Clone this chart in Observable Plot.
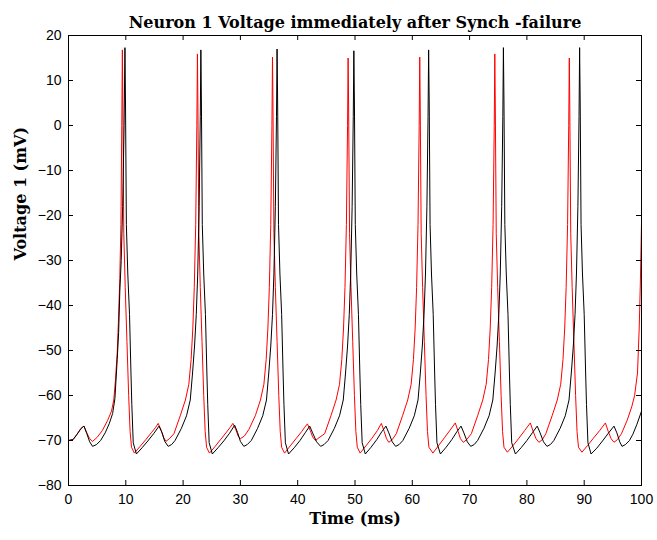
<!DOCTYPE html>
<html>
<head>
<meta charset="utf-8">
<script src="https://cdn.jsdelivr.net/npm/d3@7"></script>
<script src="https://cdn.jsdelivr.net/npm/@observablehq/plot@0.6"></script>
<style>
  html, body { margin: 0; padding: 0; background: #fff; }
  #chart { width: 657px; height: 540px; }
</style>
</head>
<body>
<div id="chart"></div>
<script>
const titleText = "Neuron 1 Voltage immediately after Synch -failure";
const xLabel = "Time (ms)";
const yLabel = "Voltage 1 (mV)";
const xTicks = [0, 10, 20, 30, 40, 50, 60, 70, 80, 90, 100];
const yTicks = [-80, -70, -60, -50, -40, -30, -20, -10, 0, 10, 20];

// black trace: [time ms, voltage mV]
const blackTrace = [
[0,-70],[0.8,-69.8],[1.5,-68.6],[2.2,-67.3],[2.7,-66.8],[3.2,-68.5],[3.7,-70.3],[4.2,-71.3],[4.9,-70.9],[5.6,-70.0],[6.4,-68.3],[7.1,-66.3],[7.7,-64.0],[8.1,-60.7],[8.5,-52],[8.75,-46],[8.95,-37],[9.2,-30],[9.45,-18],[9.7,0],[9.85,17.3],
[9.95,5],[10.1,-22],[10.35,-33],[10.65,-42],[10.9,-55],[11.05,-62],[11.3,-70.5],[11.85,-73],[12.85,-71.6],[13.85,-70.1],[14.85,-68.5],[15.8,-66.8],[16.3,-68.2],[16.8,-70.2],[17.4,-71.3],[18.0,-70.9],[18.6,-70],[19.7,-67.3],[20.6,-64.5],[21.25,-61],[21.65,-55],[22.0,-49],[22.3,-42],[22.55,-33],[22.8,-18],[23.0,2],[23.1,16.8],
[23.2,5],[23.35,-22],[23.6,-33],[23.9,-42],[24.15,-55],[24.3,-62],[24.55,-70.5],[25.1,-73],[26.1,-71.6],[27.1,-70.1],[28.1,-68.4],[29.0,-66.6],[29.5,-68.2],[30.0,-70.2],[30.6,-71.3],[31.2,-70.9],[31.9,-70],[33.0,-67.3],[33.9,-64.5],[34.55,-61],[34.95,-55],[35.3,-49],[35.6,-42],[35.85,-33],[36.1,-18],[36.3,2],[36.4,17.0],
[36.5,5],[36.65,-22],[36.9,-33],[37.2,-42],[37.45,-55],[37.6,-62],[37.85,-70.5],[38.4,-73],[39.4,-71.6],[40.4,-70],[41.3,-68.3],[42.1,-66.8],[42.6,-68.3],[43.3,-70.3],[44.0,-71.3],[44.6,-70.9],[45.3,-70],[46.4,-67.3],[47.3,-64.5],[47.95,-61],[48.35,-55],[48.7,-49],[49.0,-42],[49.25,-33],[49.5,-18],[49.7,2],[49.8,16.6],
[49.9,5],[50.05,-22],[50.3,-33],[50.6,-42],[50.85,-55],[51.0,-62],[51.25,-70.5],[51.8,-73],[52.8,-71.5],[53.8,-69.8],[54.7,-68],[55.4,-66.8],[55.9,-68.3],[56.5,-70.3],[57.1,-71.3],[57.7,-70.9],[58.35,-70],[59.45,-67.3],[60.35,-64.5],[61.0,-61],[61.4,-55],[61.75,-49],[62.05,-42],[62.3,-33],[62.55,-18],[62.75,2],[62.85,16.8],
[62.95,5],[63.1,-22],[63.35,-33],[63.65,-42],[63.9,-55],[64.05,-62],[64.3,-70.5],[64.9,-73],[65.9,-71.5],[66.9,-69.8],[67.8,-68],[68.5,-66.8],[69.0,-68.3],[69.6,-70.3],[70.2,-71.3],[70.8,-70.9],[71.4,-70],[72.5,-67.3],[73.4,-64.5],[74.05,-61],[74.45,-55],[74.8,-49],[75.1,-42],[75.35,-33],[75.6,-18],[75.8,2],[75.9,17.3],
[76.0,5],[76.15,-22],[76.4,-33],[76.7,-42],[76.95,-55],[77.1,-62],[77.35,-70.5],[78.0,-73],[79.0,-71.6],[80.0,-70],[81.0,-68.2],[81.8,-66.8],[82.3,-68.3],[82.9,-70.3],[83.5,-71.3],[84.1,-70.9],[84.7,-70],[85.8,-67.3],[86.7,-64.5],[87.35,-61],[87.75,-55],[88.1,-49],[88.4,-42],[88.65,-33],[88.9,-18],[89.1,2],[89.2,17.3],
[89.3,5],[89.45,-22],[89.7,-33],[90.0,-42],[90.25,-55],[90.4,-62],[90.65,-70.5],[91.2,-73],[92.2,-71.7],[93.2,-70.1],[94.2,-68.4],[95.2,-66.8],[95.7,-68.3],[96.2,-70.3],[96.6,-71.3],[97.2,-70.9],[97.9,-70],[98.5,-68.6],[99.2,-66.4],[100,-63.5]
];

// red trace: [time ms, voltage mV]
const redTrace = [
[0,-70],[0.8,-69.8],[1.5,-68.6],[2.2,-67.3],[2.7,-66.8],[3.2,-68.3],[3.7,-69.6],[4.2,-70.2],[5.0,-69.3],[5.9,-67.8],[6.8,-65.6],[7.5,-63.5],[7.9,-61],[8.2,-56.5],[8.5,-50.5],[8.7,-44],[8.95,-34],[9.15,-22],[9.3,0],[9.4,16.8],
[9.48,5],[9.65,-24],[9.9,-36],[10.2,-48],[10.5,-60],[10.75,-68],[11.0,-71.5],[11.5,-72.8],[12.5,-71.3],[13.5,-69.8],[14.5,-68.2],[15.2,-67.1],[15.65,-66.2],[16.2,-67.8],[16.6,-69.3],[17.0,-70.2],[17.6,-69.6],[18.4,-68.5],[19.5,-64.5],[20.4,-61],[21.0,-57.5],[21.4,-52],[21.7,-45],[21.95,-36],[22.2,-22],[22.4,0],[22.5,15.9],
[22.58,5],[22.75,-24],[23.0,-36],[23.3,-48],[23.6,-60],[23.85,-68],[24.1,-71.5],[24.6,-72.8],[25.6,-71.3],[26.6,-69.7],[27.6,-68.1],[28.2,-67.1],[28.7,-66.2],[29.2,-67.6],[29.6,-69.0],[30.0,-69.6],[30.7,-69.0],[31.5,-67.5],[32.6,-64.5],[33.5,-61],[34.1,-57.5],[34.5,-52],[34.8,-45],[35.05,-36],[35.3,-22],[35.5,0],[35.6,15.2],
[35.68,5],[35.85,-24],[36.1,-36],[36.4,-48],[36.7,-60],[36.95,-68],[37.2,-71.5],[37.7,-72.8],[38.7,-71.2],[39.7,-69.6],[40.7,-68],[41.2,-67.1],[41.7,-66.3],[42.2,-67.8],[42.6,-69.2],[43.1,-70],[43.7,-69.4],[44.7,-68.5],[45.8,-64.5],[46.7,-61],[47.3,-57.5],[47.7,-52],[48.0,-45],[48.25,-36],[48.5,-22],[48.7,0],[48.8,15.0],
[48.88,5],[49.05,-24],[49.3,-36],[49.6,-48],[49.9,-60],[50.15,-68],[50.4,-71.5],[50.9,-72.8],[51.9,-71.2],[52.9,-69.6],[53.9,-67.8],[54.6,-66.2],[55.1,-68.0],[55.5,-69.6],[55.9,-70.4],[56.5,-69.8],[57.2,-68.5],[58.3,-64.5],[59.2,-61],[59.8,-57.5],[60.2,-52],[60.5,-45],[60.75,-36],[61.0,-22],[61.2,0],[61.3,15.2],
[61.38,5],[61.55,-24],[61.8,-36],[62.1,-48],[62.4,-60],[62.65,-68],[62.9,-71.5],[63.6,-72.8],[64.6,-71.1],[65.6,-69.4],[66.6,-67.7],[67.5,-66.1],[68.0,-68],[68.4,-69.6],[68.9,-70.4],[69.5,-69.8],[70.3,-68.5],[71.4,-64.5],[72.3,-61],[72.9,-57.5],[73.3,-52],[73.6,-45],[73.85,-36],[74.1,-22],[74.3,0],[74.4,15.9],
[74.48,5],[74.65,-24],[74.9,-36],[75.2,-48],[75.5,-60],[75.75,-68],[76.0,-71.5],[76.6,-72.6],[77.6,-71.1],[78.6,-69.5],[79.6,-67.8],[80.6,-66.1],[81.1,-68],[81.6,-69.6],[82.1,-70.4],[82.7,-69.8],[83.3,-68.5],[84.4,-64.5],[85.3,-61],[85.9,-57.5],[86.3,-52],[86.6,-45],[86.85,-36],[87.1,-22],[87.3,0],[87.4,15.0],
[87.48,5],[87.65,-24],[87.9,-36],[88.2,-48],[88.5,-60],[88.75,-68],[89.0,-71.5],[89.6,-72.6],[90.6,-71.1],[91.6,-69.5],[92.7,-67.8],[93.7,-66.1],[94.2,-68],[94.7,-69.6],[95.2,-70.4],[95.8,-69.8],[96.5,-68.5],[97.5,-65.5],[98.3,-62.5],[98.8,-60],[99.3,-55],[99.6,-45],[99.8,-35],[100,-21.6]
];

const toRows = arr => arr.map(([t, v]) => ({t, v}));
const black = toRows(blackTrace);
const red = toRows(redTrace);

const tickFont = {fontSize: 14, fontFamily: "Liberation Sans, Arial, sans-serif"};
const labelFont = {fontFamily: "DejaVu Serif, serif", fontWeight: "bold", fill: "black"};

const chart = Plot.plot({
  width: 657,
  height: 540,
  marginLeft: 68,
  marginRight: 16,
  marginTop: 35,
  marginBottom: 55,
  style: {background: "white", color: "black", overflow: "visible"},
  x: {domain: [0, 100], label: null},
  y: {domain: [-80, 20], label: null},
  marks: [
    Plot.line(red, {x: "t", y: "v", stroke: "#ff0000", strokeWidth: 1}),
    Plot.line(black, {x: "t", y: "v", stroke: "#000000", strokeWidth: 1}),
    Plot.frame({stroke: "black", strokeWidth: 1}),
    // inward tick marks on all four sides
    Plot.tickX(xTicks, {x: d => d, insetTop: 445, stroke: "black"}),
    Plot.tickX(xTicks, {x: d => d, insetBottom: 445, stroke: "black"}),
    Plot.tickY(yTicks, {y: d => d, insetRight: 568, stroke: "black"}),
    Plot.tickY(yTicks, {y: d => d, insetLeft: 568, stroke: "black"}),
    Plot.axisX(xTicks, {anchor: "bottom", tickSize: 0, tickPadding: 9, label: null, ...tickFont}),
    Plot.axisY(yTicks, {anchor: "left", tickSize: 0, tickPadding: 7, label: null, ...tickFont}),
    Plot.text([titleText], {frameAnchor: "top", dy: -19, fontSize: 16, ...labelFont}),
    Plot.text([xLabel], {frameAnchor: "bottom", dy: 38, fontSize: 16, ...labelFont}),
    Plot.text([yLabel], {frameAnchor: "left", dx: -48, rotate: -90, fontSize: 16, ...labelFont})
  ]
});
document.getElementById("chart").appendChild(chart);
</script>
</body>
</html>
